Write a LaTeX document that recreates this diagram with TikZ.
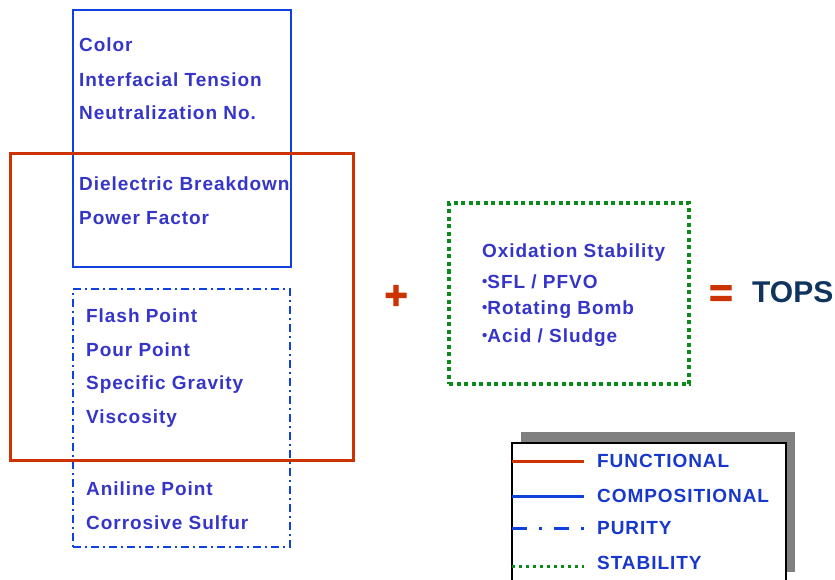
\documentclass[tikz,border=0pt]{standalone}
\usepackage{fontspec}
\setmainfont{Liberation Sans}
\definecolor{fred}{HTML}{CC3300}
\definecolor{cblue}{HTML}{1040DD}
\definecolor{txtblue}{HTML}{3535C8}
\definecolor{legblue}{HTML}{1838CC}
\definecolor{sgreen}{HTML}{0A8A1A}
\definecolor{navy}{HTML}{0F355E}
\newcommand{\smbul}{{\fontsize{15}{15}\selectfont\raisebox{2pt}{•}}}
\begin{document}
\begin{tikzpicture}[x=1pt,y=-1pt,
  prop/.style={anchor=west,inner sep=0pt,text=txtblue,
    font=\bfseries\fontsize{19}{20}\selectfont\addfontfeatures{LetterSpace=5}},
  legtxt/.style={anchor=west,inner sep=0pt,text=legblue,
    font=\bfseries\fontsize{19}{20}\selectfont\addfontfeatures{LetterSpace=5}},
  opsym/.style={inner sep=0pt,text=fred,
    font=\bfseries\fontsize{40}{40}\selectfont\addfontfeatures{FakeBold=2.5}},
  functional/.style={draw=fred,line width=3pt},
  compositional/.style={draw=cblue,line width=2.5pt},
  purity/.style={draw=cblue,line width=2.5pt,dash pattern=on 8pt off 4pt on 2pt off 4pt},
  stability/.style={draw=sgreen,line width=4pt,dash pattern=on 4pt off 3.5pt},
  boxnode/.style={rectangle,inner sep=0pt,outer sep=0pt,anchor=north west}
]
\useasboundingbox (0,0) rectangle (835,580);

% boxes
\node[boxnode,compositional,minimum width=218pt,minimum height=257pt] (comp) at (73,10) {};
\node[boxnode,purity,minimum width=217pt,minimum height=258pt] (pur) at (73,289) {};
\node[boxnode,functional,minimum width=343pt,minimum height=306pt] (func) at (10,154) {};
\node[boxnode,stability,minimum width=240pt,minimum height=181pt] (stab) at (449,203) {};

% composition texts
\node[prop] (t1) at (79,45) {Color};
\node[prop] (t2) at (79,80) {Interfacial Tension};
\node[prop] (t3) at (79,113) {Neutralization No.};
\node[prop] (t4) at (79,184) {Dielectric Breakdown};
\node[prop] (t5) at (79,218) {Power Factor};

% purity texts
\node[prop] (p1) at (86,316) {Flash Point};
\node[prop] (p2) at (86,350) {Pour Point};
\node[prop] (p3) at (86,385) {Specific Gravity};
\node[prop] (p4) at (86,419) {Viscosity};
\node[prop] (p5) at (86,489) {Aniline Point};
\node[prop] (p6) at (86,523) {Corrosive Sulfur};

% stability texts
\node[prop] (s1) at (482,253) {Oxidation Stability};
\node[prop] (s2) at (482,282) {\smbul SFL / PFVO};
\node[prop] (s3) at (482,310) {\smbul Rotating Bomb};
\node[prop] (s4) at (482,338) {\smbul Acid / Sludge};

% operators
\node[opsym] (plus) at (396,297) {+};
\node[opsym] (eq) at (721,296) {=};
\node[anchor=west,inner sep=0pt,text=navy,font=\bfseries\fontsize{30}{30}\selectfont] (tops) at (752,292) {TOPS};

% legend
\fill[black!50] (521,432) rectangle (795,572);
\node[boxnode,draw=black,line width=1.2pt,fill=white,minimum width=274pt,minimum height=145pt] (leg) at (512,443) {};
\coordinate (la1) at (512,461); \coordinate (lb1) at (584,461);
\coordinate (la2) at (512,496); \coordinate (lb2) at (584,496);
\coordinate (la3) at (512,528); \coordinate (lb3) at (584,528);
\coordinate (la4) at (512,566); \coordinate (lb4) at (584,566);
\draw[draw=fred,line width=3pt] (la1) -- (lb1);
\draw[draw=cblue,line width=3pt] (la2) -- (lb2);
\draw[draw=cblue,line width=3pt,dash pattern=on 15pt off 12pt on 3pt off 12pt] (la3) -- (lb3);
\draw[draw=sgreen,line width=3pt,dash pattern=on 3pt off 4pt] (la4) -- (lb4);
\node[legtxt] (l1) at (597,461) {FUNCTIONAL};
\node[legtxt] (l2) at (597,496) {COMPOSITIONAL};
\node[legtxt] (l3) at (597,528) {PURITY};
\node[legtxt] (l4) at (597,563) {STABILITY};
\end{tikzpicture}
\end{document}
